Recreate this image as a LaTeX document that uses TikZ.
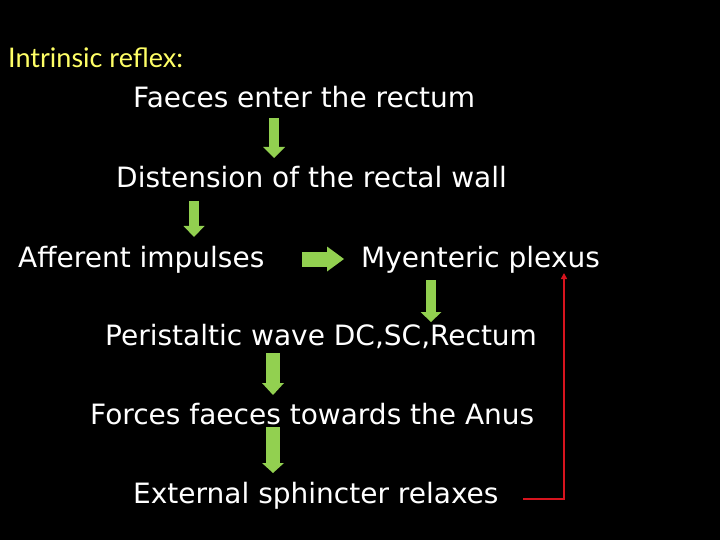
\documentclass[tikz,border=0pt]{standalone}
\usepackage{fontspec}
\setmainfont{DejaVu Sans}
\newfontfamily\titlefont{Lato}
\usetikzlibrary{arrows.meta}
\definecolor{arrowgreen}{RGB}{146,208,80}
\definecolor{linkred}{RGB}{215,20,30}
\definecolor{titleyellow}{RGB}{255,255,102}
\tikzset{
  lbl/.style={anchor=base west, inner sep=0pt, text=white, font=\fontsize{28}{32}\selectfont},
  blk/.style n args={3}{draw=arrowgreen, line width=#1,
    -{Triangle[width=#2,length=#3,line width=0pt,fill=arrowgreen]}},
  fb/.style={draw=linkred, line width=1.5pt, -{Triangle[width=6pt,length=6pt]}}
}
\begin{document}
\begin{tikzpicture}[x=1pt,y=-1pt]
\fill[black] (0,0) rectangle (720,540);
\useasboundingbox (0,0) rectangle (720,540);
\node[anchor=base west, inner sep=0pt, text=titleyellow, font=\titlefont\fontsize{27}{32}\selectfont] (title) at (8,68) {Intrinsic reflex:};
\node[lbl] (faeces) at (133,108) {Faeces enter the rectum};
\node[lbl] (dist) at (116,188) {Distension of the rectal wall};
\node[lbl] (aff) at (18,267) {Afferent impulses};
\node[lbl] (mye) at (361,267) {Myenteric plexus};
\node[lbl] (peri) at (105,345) {Peristaltic wave DC,SC,Rectum};
\node[lbl] (forces) at (90,424) {Forces faeces towards the Anus};
\node[lbl] (ext) at (133,503) {External sphincter relaxes};
% arrow end points
\coordinate (a1s) at (274,118); \coordinate (a1e) at (274,158);
\coordinate (a2s) at (194,201); \coordinate (a2e) at (194,237);
\coordinate (a3s) at (302,259); \coordinate (a3e) at (344,259);
\coordinate (a4s) at (431,280); \coordinate (a4e) at (431,322);
\coordinate (a5s) at (273,353); \coordinate (a5e) at (273,395);
\coordinate (a6s) at (273,427); \coordinate (a6e) at (273,473);
\draw[blk={10pt}{22pt}{11pt}] (a1s) -- (a1e);
\draw[blk={10pt}{21pt}{11pt}] (a2s) -- (a2e);
\draw[blk={15pt}{25pt}{17pt}] (a3s) -- (a3e);
\draw[blk={10pt}{21pt}{10pt}] (a4s) -- (a4e);
\draw[blk={14pt}{22pt}{12pt}] (a5s) -- (a5e);
\draw[blk={14pt}{22pt}{10pt}] (a6s) -- (a6e);
% feedback line
\coordinate (fbs) at (523,499);
\coordinate (fbc) at (564,499);
\coordinate (fbe) at (564,273);
\draw[fb] (fbs) -- (fbc) -- (fbe);
\end{tikzpicture}
\end{document}
